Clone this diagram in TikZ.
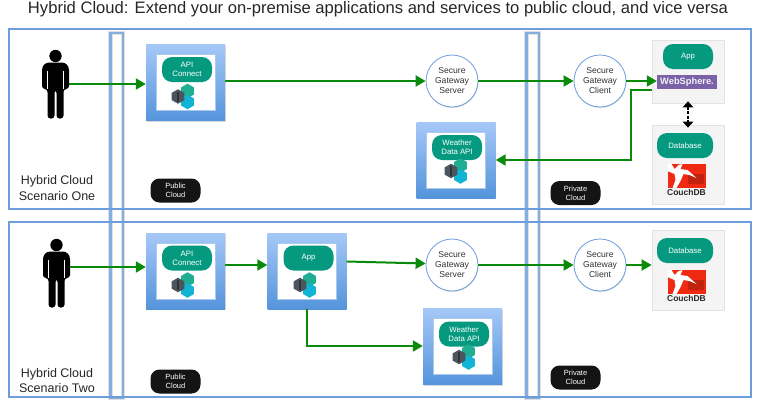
\documentclass[tikz,border=0pt]{standalone}
\usepackage{fontspec}
\setmainfont{Liberation Sans}
\usetikzlibrary{shadows,arrows.meta,shapes.geometric}
\definecolor{panelblue}{HTML}{6D9EDB}
\definecolor{barblue}{HTML}{85AEDF}
\definecolor{flowgreen}{HTML}{0A8A0A}
\definecolor{pillteal}{HTML}{059A80}
\definecolor{greybox}{HTML}{F4F4F4}
\definecolor{greyline}{HTML}{E2E2E2}
\definecolor{webpurple}{HTML}{7B62A8}
\definecolor{couchred}{HTML}{F02A12}
\definecolor{boxtop}{HTML}{A5C8F8}
\definecolor{boxbottom}{HTML}{5594DB}
\definecolor{hexteal}{HTML}{1FAE92}
\definecolor{hexcyan}{HTML}{12B4D6}
\definecolor{hexdark}{HTML}{4A5560}
\tikzset{
  panel/.style={draw=panelblue,line width=2pt},
  vbar/.style={draw=barblue,line width=2.6pt,preaction={draw=black!12,line width=4.4pt}},
  service/.style={minimum width=79pt,minimum height=76pt,inner sep=0pt,top color=boxtop,bottom color=boxbottom,drop shadow={shadow xshift=0.5pt,shadow yshift=-1pt,opacity=0.3}},
  inbox/.style={fill=white,draw=boxbottom!50,line width=0.6pt,minimum width=59pt,minimum height=56pt,inner sep=0pt},
  pill/.style={fill=pillteal,rounded corners=10pt,text=white,font=\fontsize{7.8}{9}\selectfont,align=center,minimum width=50pt,minimum height=25pt,inner sep=0pt},
  darkpill/.style={fill=black!92,rounded corners=9pt,text=white,font=\fontsize{7.5}{9}\selectfont,align=center,minimum width=50pt,minimum height=24pt,inner sep=0pt},
  gateway/.style={circle,draw=panelblue,fill=white,line width=0.8pt,minimum size=52pt,inner sep=0pt,align=center,font=\fontsize{8.6}{10}\selectfont,text=black!80,drop shadow={shadow xshift=0.4pt,shadow yshift=-1pt,opacity=0.3}},
  graybox/.style={fill=greybox,draw=greyline,line width=0.7pt,minimum width=72pt,inner sep=0pt},
  flow/.style={draw=flowgreen,line width=2pt,-{Triangle[length=10pt,width=11pt]}},
  link/.style={draw=black,line width=1.5pt,dash pattern=on 3pt off 1.5pt,shorten <=-2pt,shorten >=-3pt,{Triangle[length=6pt,width=10.5pt]}-{Triangle[length=6pt,width=10.5pt]}},
  scenario/.style={font=\fontsize{12.5}{15.5}\selectfont,align=center,text=black!85},
  hexa/.style={regular polygon,regular polygon sides=6,rotate=30,minimum size=14.5pt,inner sep=0pt},
}
% hexagon cluster of a service box
\newcommand{\hexicon}[2]{
  \begin{scope}[shift={(#1,#2)}]
    \node[hexa,fill=hexteal] at (4.5,-5.5) {};
    \node[hexa,fill=hexcyan] at (4.5,5.5) {};
    \node[hexa,fill=hexdark] at (-5,0) {};
    \fill[black!80] (-6.5,-5) rectangle (-4,5);
  \end{scope}
}
% standing figure
\newcommand{\person}[2]{
  \begin{scope}[shift={(#1,#2)}]
    \fill (13.5,6) circle (6.2pt);
    \fill[rounded corners=3pt] (0,39)--(0,17)--(4,12.5)--(23,12.5)--(27,17)--(27,39)--(21.5,39)--(21.5,68.5)--(14.5,68.5)--(14.5,40)--(12.5,40)--(12.5,68.5)--(5.5,68.5)--(5.5,39)--cycle;
    \draw[white,line width=0.5pt] (5.5,21)--(5.5,39) (21.5,21)--(21.5,39);
  \end{scope}
}
% red logo with its name
\newcommand{\couchlogo}[2]{
  \begin{scope}[shift={(#1,#2)}]
    \fill[couchred] (-19,-12) rectangle (19,12);
    \fill[couchred!80!black] (1,-2)--(17,-2)--(17,8)--(1,8)--cycle;
    \fill[white] (-19,-12)--(-15,-12)--(-12,-7)--(-8,-11)--(-4,-12)--(-6,-7)--(1,-6)--(10,2)--(3,-1)--(-3,-2)--(-6,5)--(-10,12)--(-14,12)--(-11,4)--(-12,-2)--(-19,-5)--cycle;
    \node[font=\fontsize{8.5}{9}\selectfont\bfseries,text=black!85] at (0,16) {CouchDB};
  \end{scope}
}
\begin{document}
\begin{tikzpicture}[x=1pt,y=-1pt]
  \useasboundingbox (0,0) rectangle (762,402);
  \node[font=\fontsize{16.6}{19}\selectfont,text=black!85] (title) at (378,9.5) {Hybrid Cloud: Extend your on-premise applications and services to public cloud, and vice versa};

  \draw[vbar] (110.5,33) rectangle (123,398);
  \draw[vbar] (526.5,33) rectangle (539,398);
  \draw[panel] (9,29) rectangle (751,209);
  \draw[panel] (9,222) rectangle (751,397);

  \coordinate (hand1) at (62,84);
  \coordinate (hand2) at (62,267);
  \node[scenario] (one) at (57,188) {Hybrid Cloud\\Scenario One};
  \node[scenario] (two) at (57,380.5) {Hybrid Cloud\\Scenario Two};
  \node[darkpill] (pub1) at (175.5,190.5) {Public\\Cloud};
  \node[darkpill] (pub2) at (175.5,381.5) {Public\\Cloud};
  \node[darkpill] (priv1) at (575.5,193) {Private\\Cloud};
  \node[darkpill] (priv2) at (575.5,377.5) {Private\\Cloud};

  % upper scenario
  \node[service] (api1) at (185.5,82.5) {};
  \node[inbox] at (api1) {};
  \node[pill] at (187,69.5) {API\\Connect};
  \hexicon{183}{96.5}
  \node[service] (weather1) at (456,160) {};
  \node[inbox] at (weather1) {};
  \node[pill] at (457,147.5) {Weather\\Data API};
  \hexicon{456}{171}
  \node[gateway] (server1) at (452,81) {Secure\\Gateway\\Server};
  \node[gateway] (client1) at (600,81) {Secure\\Gateway\\Client};
  \node[graybox,minimum height=63pt] (appbox) at (688,71.5) {};
  \node[pill] at (688,56.5) {App};
  \node[fill=webpurple,text=white!90!webpurple,font=\fontsize{9.3}{10}\selectfont\bfseries,minimum width=60pt,minimum height=14pt,inner sep=0pt] (websphere) at (687,82) {WebSphere.};
  \node[graybox,minimum height=79pt] (dbbox1) at (688,164.5) {};
  \node[pill,minimum width=56pt] at (685,145.5) {Database};
  \couchlogo{686.5}{176}

  % lower scenario
  \node[service] (api2) at (185.5,271) {};
  \node[inbox] at (api2) {};
  \node[pill] at (187,258) {API\\Connect};
  \hexicon{183}{285}
  \node[service] (app2) at (307,271) {};
  \node[inbox] at (app2) {};
  \node[pill] at (308.5,258) {App};
  \hexicon{305}{285}
  \node[service] (weather2) at (462.5,346.5) {};
  \node[inbox] at (weather2) {};
  \node[pill] at (464,334) {Weather\\Data API};
  \hexicon{464}{357}
  \node[gateway] (server2) at (452,265) {Secure\\Gateway\\Server};
  \node[gateway] (client2) at (600,265) {Secure\\Gateway\\Client};
  \node[graybox,minimum height=80pt] (dbbox2) at (688,270) {};
  \node[pill,minimum width=56pt] at (685,250.5) {Database};
  \couchlogo{686.5}{282}

  \draw[flow] (hand1) -- (api1.west |- hand1);
  \draw[flow] (api1.east |- server1) -- (server1);
  \draw[flow] (server1) -- (client1);
  \draw[flow] (client1) -- (websphere.west |- client1);
  \draw[flow] (appbox.west |- 0,90) -- (631,90) -- (631,160) -- (weather1.east);
  \draw[link] (appbox.south) -- (dbbox1.north);
  \draw[flow] (hand2) -- (api2.west |- hand2);
  \draw[flow] (api2.east |- 0,265) -- (app2.west |- 0,265);
  \draw[flow] (app2.east |- 0,261.5) -- (server2.west |- 0,263.5);
  \draw[flow] (server2) -- (client2);
  \draw[flow] (client2) -- (dbbox2.west |- client2);
  \draw[flow] (app2.south) -- (307,346) -- (weather2.west |- 0,346);

  \person{42}{50}
  \person{43}{239}
\end{tikzpicture}
\end{document}
